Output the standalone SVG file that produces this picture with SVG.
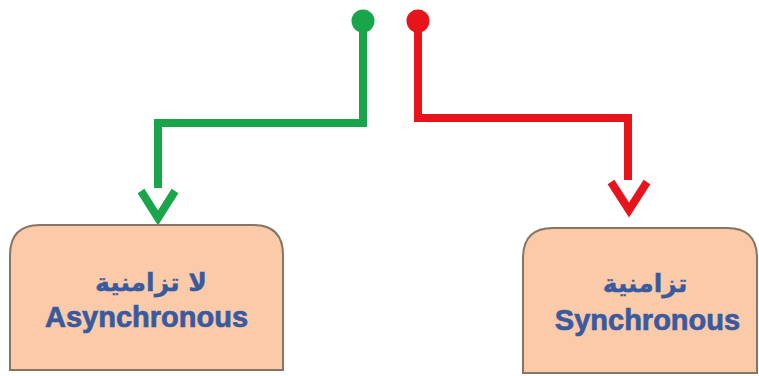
<svg xmlns="http://www.w3.org/2000/svg" width="759" height="376" viewBox="0 0 759 376">
<style>
.box{fill:#fbcaa9;stroke:#857565;stroke-width:2}
.en{font-family:"Liberation Sans",Arial,sans-serif;font-weight:bold;font-size:29px;fill:#3a5a9f;stroke:#3a5a9f;stroke-width:0.7;text-anchor:middle}
.ar{font-family:"DejaVu Sans","Noto Sans",sans-serif;font-weight:bold;font-size:25px;fill:#3a5a9f;stroke:#3a5a9f;stroke-width:0.4;text-anchor:middle}
.g{fill:none;stroke:#19a54a;stroke-width:8}
.r{fill:none;stroke:#e8141b;stroke-width:8}
</style>
<rect width="759" height="376" fill="#ffffff"/>
<g id="connectors">
<path class="g" d="M363,21 V123 H158 V188"/>
<path class="g" d="M141,191 L158,218 L175,191"/>
<circle cx="363" cy="21" r="11.5" fill="#19a54a"/>
<path class="r" d="M418,21 V118 H628 V180"/>
<path class="r" d="M611,182 L629,210 L647,182"/>
<circle cx="418" cy="21" r="11.5" fill="#e8141b"/>
</g>
<g id="async">
<path class="box" d="M10,370 V255 Q10,225 40,225 H253 Q283,225 283,255 V370 Z"/>
<text class="ar" x="151" y="291" direction="rtl">لا تزامنية</text>
<text class="en" x="146.5" y="327">Asynchronous</text>
</g>
<g id="sync">
<path class="box" d="M523,373 V258 Q523,228 553,228 H727 Q757,228 757,258 V373 Z"/>
<text class="ar" x="645" y="292" direction="rtl">تزامنية</text>
<text class="en" x="647.5" y="330">Synchronous</text>
</g>
</svg>
